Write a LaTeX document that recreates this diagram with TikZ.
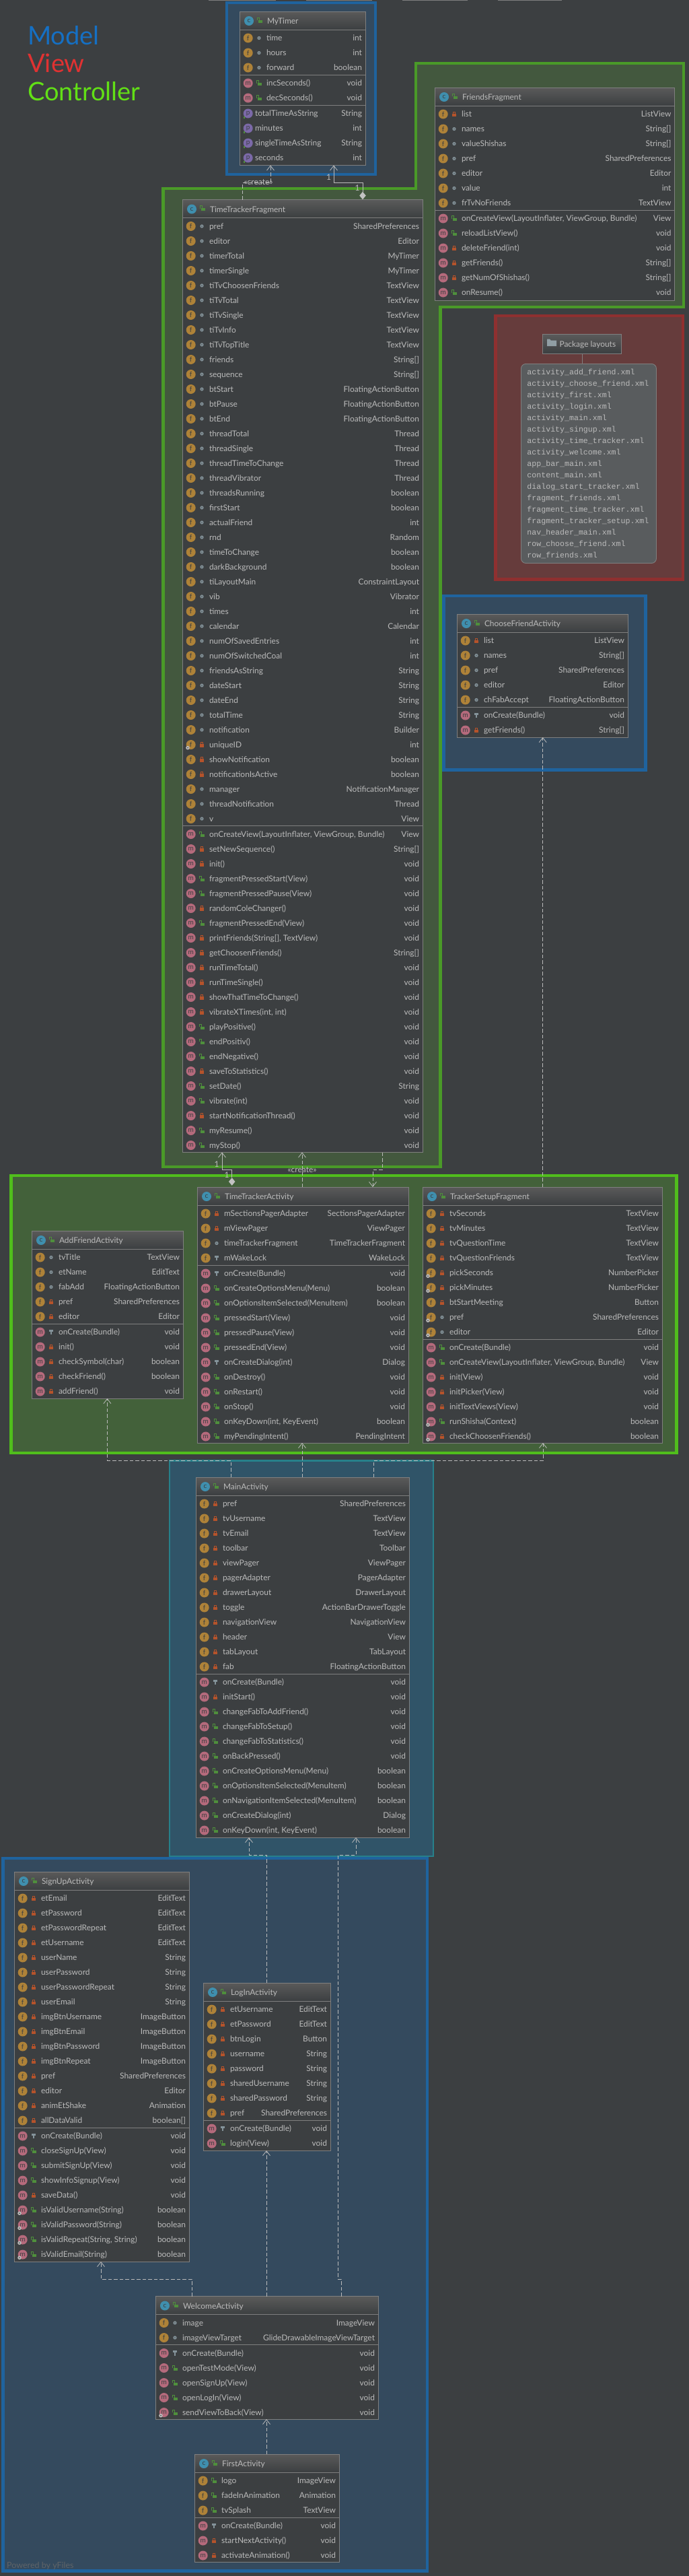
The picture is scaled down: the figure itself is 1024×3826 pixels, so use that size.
\documentclass[tikz,border=0pt]{standalone}
\usepackage{fontspec}
\setmainfont{Lato}
\setmonofont{Liberation Mono}
\usetikzlibrary{arrows.meta,shapes.geometric}
\definecolor{bgdark}{HTML}{3C3F41}
\definecolor{boxline}{HTML}{7F7F7F}
\definecolor{headtop}{HTML}{5A5A5A}
\definecolor{textgrey}{HTML}{BBBBBB}
\definecolor{fieldcol}{HTML}{AE8238}
\definecolor{methodcol}{HTML}{B56A7C}
\definecolor{classcol}{HTML}{3F8FAE}
\definecolor{propcol}{HTML}{7B69A8}
\definecolor{pubgreen}{HTML}{4F8F3C}
\definecolor{privred}{HTML}{B5532B}
\definecolor{dotgrey}{HTML}{84939A}
\definecolor{frameblue}{HTML}{1F639E}
\definecolor{zoneblue}{HTML}{344A5E}
\definecolor{frameteal}{HTML}{27808A}
\definecolor{zoneteal}{HTML}{305468}
\definecolor{framered}{HTML}{8F3030}
\definecolor{zonered}{HTML}{663C3C}
\definecolor{framegreen}{HTML}{4A9A28}
\definecolor{framelime}{HTML}{50BE1C}
\definecolor{zonegreen}{HTML}{43583E}
\definecolor{zonelime}{HTML}{43613A}
\definecolor{legendblue}{HTML}{1570C4}
\definecolor{legendred}{HTML}{E03232}
\definecolor{legendgreen}{HTML}{62E016}
\definecolor{yfilesgrey}{HTML}{5F6468}
\newcommand{\rowfont}{\fontsize{11.95}{14}\selectfont}
\tikzset{
  classbox/.style={rectangle,anchor=north west,fill=bgdark,inner sep=0pt,outer sep=0pt},
  boxedge/.style={draw=boxline,line width=0.9pt},
  rowtext/.style={font=\rowfont,text=textgrey,inner sep=0pt,outer sep=0pt},
  badge/.style={circle,minimum size=14pt,inner sep=0pt,text=bgdark,font=\fontsize{10}{10}\selectfont},
  gearmark/.style={fill=textgrey},
  dep/.style={draw=textgrey,line width=0.8pt,dash pattern=on 5.5pt off 3pt,-{Straight Barb[length=7pt,width=11pt]}},
  assoc/.style={draw=textgrey,line width=0.8pt,-{Straight Barb[length=7pt,width=11pt]}},
  diamondmark/.style={diamond,fill=textgrey!90!white,minimum width=9.5pt,minimum height=11.5pt,inner sep=0pt,outer sep=0pt},
  tag/.style={font=\fontsize{12}{14}\selectfont,text=textgrey,inner sep=0pt},
  legend/.style={font=\fontsize{38}{44}\selectfont,anchor=base west,inner sep=0pt},
  zone/.style 2 args={draw=#1,fill=#2,line width=4.5pt,line join=miter}
}
\newcommand{\umlgear}[1]{\fill[gearmark] (#1-4.7,\rowy+4.7) circle (2.8);\fill[bgdark] (#1-4.7,\rowy+4.7) circle (0.8);}
\newcommand{\umliconf}[2]{\node[badge,fill=fieldcol] (#1) at (#2,\rowy) {f};}
\newcommand{\umliconm}[2]{\node[badge,fill=methodcol] (#1) at (#2,\rowy) {m};}
\newcommand{\umliconp}[2]{\node[badge,fill=propcol] (#1) at (#2,\rowy) {p};\fill[pubgreen] (#2-7,\rowy+4.5) rectangle (#2-4.5,\rowy+7);}
\newcommand{\umliconF}[2]{\umliconf{#1}{#2}\umlgear{#2}}
\newcommand{\umliconM}[2]{\umliconm{#1}{#2}\umlgear{#2}}
\newcommand{\umlvisg}[2]{\begin{scope}[shift={(#1,#2)}]
    \draw[pubgreen,line width=1.1pt] (-3.6,0) -- (-3.6,-3.6) -- (-0.6,-3.6) -- (-0.6,0);
    \fill[pubgreen] (-1.6,-0.4) rectangle (3.6,3.6);
  \end{scope}}
\newcommand{\umlvisr}[2]{\begin{scope}[shift={(#1,#2)}]
    \draw[privred,line width=1.1pt] (-1.8,0) -- (-1.8,-3.4) -- (1.8,-3.4) -- (1.8,0);
    \fill[privred] (-3,-0.6) rectangle (3,3.6);
  \end{scope}}
\newcommand{\umlviso}[2]{\draw[dotgrey,fill=dotgrey!60!bgdark,line width=1.2pt] (#1,#2) circle (2);}
\newcommand{\umlvisk}[2]{\begin{scope}[shift={(#1,#2)}]
    \fill[dotgrey] (-2.8,-3.8) rectangle (2.8,-1);
    \fill[dotgrey] (-1.1,-1) rectangle (1.1,3.8);
  \end{scope}}
\newcommand{\umlvisn}[2]{}
\newcommand{\umlclass}[7]{
  \pgfmathsetmacro\boxw{#3-#2}
  \pgfmathsetmacro\boxh{#5-#4}
  \node[classbox,minimum width=\boxw pt,minimum height=\boxh pt] (#1) at (#2,#4) {};
  \shade[top color=headtop,bottom color=bgdark] (#2,#4) rectangle (#3,#4+27);
  \draw[boxedge] (#2,#4+27) -- (#3,#4+27);
  \draw[boxedge] (#2,#4) rectangle (#3,#5);
  \node[badge,fill=classcol] (#1-c) at (#2+14,#4+14) {c};
  \umlvisg{#2+30}{#4+13}
  \node[rowtext,anchor=base west] (#1-title) at (#2+41,#4+18.5) {#6};
  \pgfmathsetmacro\rowy{#4+39.5}
  \global\let\rowy\rowy
  \foreach [count=\rowno] \kind/\vis/\rowname/\rowtype in {#7} {
    \if\kind s
      \draw[boxedge] (#2,\rowy-11.5) -- (#3,\rowy-11.5);
      \pgfmathsetmacro\nexty{\rowy+1}
    \else
      \csname umlicon\kind\endcsname{#1-i\rowno}{#2+12.7}
      \csname umlvis\vis\endcsname{#2+29}{\rowy}
      \def\rowx{40}
      \if\kind p \def\rowx{23}\fi
      \node[rowtext,anchor=base west] (#1-n\rowno) at (#2+\rowx,\rowy+4.3) {\rowname};
      \node[rowtext,anchor=base east] (#1-t\rowno) at (#3-5,\rowy+4.3) {\rowtype};
      \pgfmathsetmacro\nexty{\rowy+22}
    \fi
    \global\let\rowy\nexty
  }
}
\begin{document}
\begin{tikzpicture}[x=1pt,y=-1pt]
  \useasboundingbox (0,0) rectangle (1024,3826);
  \fill[bgdark] (0,0) rectangle (1024,3826);
  \foreach \stripa/\stripb in {310/410,455/553,598/695,740/835}
    \fill[boxline] (\stripa,0) rectangle (\stripb,1);

  \draw[zone={framered}{zonered}] (736.5,469) rectangle (1015,860.5);
  \draw[zone={frameblue}{zoneblue}] (337,4) rectangle (558,259);
  \draw[zone={frameblue}{zoneblue}] (659.5,885) rectangle (959.5,1143.5);
  \draw[zone={frameblue}{zoneblue}] (4.5,2760) rectangle (635,3818.5);
  \draw[zone={framegreen}{zonegreen}]
    (618,94) -- (1016,94) -- (1016,456) -- (654.5,456) -- (654.5,1733)
    -- (242.5,1733) -- (242.5,280) -- (618,280) -- cycle;
  \draw[zone={framelime}{zonelime}] (16.7,1746) rectangle (1005.5,2158);
  \draw[zone={frameteal}{zoneteal},line width=2.8pt] (252,2169.5) rectangle (644,2757);

  \node[legend,text=legendblue] (legendmodel) at (41,66) {Model};
  \node[legend,text=legendred] (legendview) at (41,107) {View};
  \node[legend,text=legendgreen] (legendctrl) at (41,149) {Controller};

  \umlclass{mytimer}{356}{543}{17}{245.5}{MyTimer}{
    f/o/time/int, f/o/hours/int, f/o/forward/boolean, s/n/x/x,
    m/g/incSeconds()/void, m/g/decSeconds()/void, s/n/x/x,
    p/n/totalTimeAsString/String, p/n/minutes/int, p/n/singleTimeAsString/String, p/n/seconds/int}

  \umlclass{friends}{646}{1002.5}{130}{446}{FriendsFragment}{
    f/r/list/ListView, f/o/names/String[], f/o/valueShishas/String[], f/o/pref/SharedPreferences,
    f/o/editor/Editor, f/o/value/int, f/o/frTvNoFriends/TextView, s/n/x/x,
    m/g/{onCreateView(LayoutInflater, ViewGroup, Bundle)}/View, m/g/reloadListView()/void,
    m/r/deleteFriend(int)/void, m/r/getFriends()/String[], m/r/getNumOfShishas()/String[], m/g/onResume()/void}

  \umlclass{ttf}{271}{628}{296.5}{1711.5}{TimeTrackerFragment}{
    f/o/pref/SharedPreferences, f/o/editor/Editor, f/o/timerTotal/MyTimer, f/o/timerSingle/MyTimer,
    f/o/tiTvChoosenFriends/TextView, f/o/tiTvTotal/TextView, f/o/tiTvSingle/TextView, f/o/tiTvInfo/TextView,
    f/o/tiTvTopTitle/TextView, f/o/friends/String[], f/o/sequence/String[], f/o/btStart/FloatingActionButton,
    f/o/btPause/FloatingActionButton, f/o/btEnd/FloatingActionButton, f/o/threadTotal/Thread, f/o/threadSingle/Thread,
    f/o/threadTimeToChange/Thread, f/o/threadVibrator/Thread, f/o/threadsRunning/boolean, f/o/firstStart/boolean,
    f/o/actualFriend/int, f/o/rnd/Random, f/o/timeToChange/boolean, f/o/darkBackground/boolean,
    f/o/tiLayoutMain/ConstraintLayout, f/o/vib/Vibrator, f/o/times/int, f/o/calendar/Calendar,
    f/o/numOfSavedEntries/int, f/o/numOfSwitchedCoal/int, f/o/friendsAsString/String, f/o/dateStart/String,
    f/o/dateEnd/String, f/o/totalTime/String, f/o/notification/Builder, F/r/uniqueID/int,
    f/r/showNotification/boolean, f/r/notificationIsActive/boolean, f/o/manager/NotificationManager,
    f/o/threadNotification/Thread, f/o/v/View, s/n/x/x,
    m/g/{onCreateView(LayoutInflater, ViewGroup, Bundle)}/View, m/r/setNewSequence()/String[], m/r/init()/void,
    m/g/fragmentPressedStart(View)/void, m/g/fragmentPressedPause(View)/void, m/r/randomColeChanger()/void,
    m/g/fragmentPressedEnd(View)/void, m/r/{printFriends(String[], TextView)}/void, m/r/getChoosenFriends()/String[],
    m/r/runTimeTotal()/void, m/r/runTimeSingle()/void, m/r/showThatTimeToChange()/void, m/r/{vibrateXTimes(int, int)}/void,
    m/g/playPositive()/void, m/g/endPositiv()/void, m/g/endNegative()/void, m/r/saveToStatistics()/void,
    m/g/setDate()/String, m/g/vibrate(int)/void, m/r/startNotificationThread()/void, m/g/myResume()/void, m/g/myStop()/void}

  \node[rectangle,draw=boxline,line width=0.9pt,top color=headtop,bottom color=bgdark,minimum width=117pt,minimum height=28.5pt,inner sep=0pt,anchor=north west] (pkglayouts) at (806,496) {};
  \fill[dotgrey!90!white] (813,503.5) -- (817,503.5) -- (818.5,505.5) -- (827,505.5) -- (827,514) -- (813,514) -- cycle;
  \node[rowtext,anchor=base west] (pkgtitle) at (831.5,515) {Package layouts};
  \node[rectangle,rounded corners=7pt,draw=boxline,fill=bgdark!85!white,line width=0.9pt,text width=183pt,minimum width=201pt,minimum height=296pt,inner sep=0pt,align=left,anchor=north west,text=textgrey,font=\ttfamily\fontsize{11.6}{17}\selectfont] (layoutlist) at (774,540) {activity\_add\_friend.xml\\activity\_choose\_friend.xml\\activity\_first.xml\\activity\_login.xml\\activity\_main.xml\\activity\_singup.xml\\activity\_time\_tracker.xml\\activity\_welcome.xml\\app\_bar\_main.xml\\content\_main.xml\\dialog\_start\_tracker.xml\\fragment\_friends.xml\\fragment\_time\_tracker.xml\\fragment\_tracker\_setup.xml\\nav\_header\_main.xml\\row\_choose\_friend.xml\\row\_friends.xml};
  \draw[draw=boxline,line width=0.9pt] (pkglayouts.south) -- (pkglayouts.south |- layoutlist.north);

  \umlclass{choosefriend}{679}{933}{912}{1095}{ChooseFriendActivity}{
    f/r/list/ListView, f/o/names/String[], f/o/pref/SharedPreferences, f/o/editor/Editor,
    f/o/chFabAccept/FloatingActionButton, s/n/x/x, m/k/onCreate(Bundle)/void, m/r/getFriends()/String[]}

  \umlclass{addfriend}{47}{272}{1828}{2077}{AddFriendActivity}{
    f/o/tvTitle/TextView, f/o/etName/EditText, f/o/fabAdd/FloatingActionButton, f/r/pref/SharedPreferences,
    f/r/editor/Editor, s/n/x/x, m/k/onCreate(Bundle)/void, m/r/init()/void, m/r/checkSymbol(char)/boolean,
    m/r/checkFriend()/boolean, m/r/addFriend()/void}

  \umlclass{tta}{293}{607}{1763}{2143}{TimeTrackerActivity}{
    f/r/mSectionsPagerAdapter/SectionsPagerAdapter, f/r/mViewPager/ViewPager,
    f/o/timeTrackerFragment/TimeTrackerFragment, f/k/mWakeLock/WakeLock, s/n/x/x,
    m/k/onCreate(Bundle)/void, m/g/onCreateOptionsMenu(Menu)/boolean, m/g/onOptionsItemSelected(MenuItem)/boolean,
    m/g/pressedStart(View)/void, m/g/pressedPause(View)/void, m/g/pressedEnd(View)/void,
    m/k/onCreateDialog(int)/Dialog, m/g/onDestroy()/void, m/g/onRestart()/void, m/g/onStop()/void,
    m/g/{onKeyDown(int, KeyEvent)}/boolean, m/g/myPendingIntent()/PendingIntent}

  \umlclass{setup}{628}{984}{1763}{2143}{TrackerSetupFragment}{
    f/r/tvSeconds/TextView, f/r/tvMinutes/TextView, f/r/tvQuestionTime/TextView, f/r/tvQuestionFriends/TextView,
    F/r/pickSeconds/NumberPicker, F/r/pickMinutes/NumberPicker, f/r/btStartMeeting/Button,
    F/o/pref/SharedPreferences, F/o/editor/Editor, s/n/x/x,
    m/g/onCreate(Bundle)/void, m/g/{onCreateView(LayoutInflater, ViewGroup, Bundle)}/View, m/r/init(View)/void,
    m/r/initPicker(View)/void, m/r/initTextViews(View)/void, M/g/runShisha(Context)/boolean, M/r/checkChoosenFriends()/boolean}

  \umlclass{mainact}{291}{608}{2194}{2729}{MainActivity}{
    f/r/pref/SharedPreferences, f/r/tvUsername/TextView, f/r/tvEmail/TextView, f/r/toolbar/Toolbar,
    f/r/viewPager/ViewPager, f/r/pagerAdapter/PagerAdapter, f/r/drawerLayout/DrawerLayout,
    f/r/toggle/ActionBarDrawerToggle, f/r/navigationView/NavigationView, f/r/header/View,
    f/r/tabLayout/TabLayout, f/r/fab/FloatingActionButton, s/n/x/x,
    m/k/onCreate(Bundle)/void, m/r/initStart()/void, m/g/changeFabToAddFriend()/void, m/g/changeFabToSetup()/void,
    m/g/changeFabToStatistics()/void, m/g/onBackPressed()/void, m/g/onCreateOptionsMenu(Menu)/boolean,
    m/g/onOptionsItemSelected(MenuItem)/boolean, m/g/onNavigationItemSelected(MenuItem)/boolean,
    m/g/onCreateDialog(int)/Dialog, m/g/{onKeyDown(int, KeyEvent)}/boolean}

  \umlclass{signup}{21}{281}{2780}{3359}{SignUpActivity}{
    f/r/etEmail/EditText, f/r/etPassword/EditText, f/r/etPasswordRepeat/EditText, f/r/etUsername/EditText,
    f/r/userName/String, f/r/userPassword/String, f/r/userPasswordRepeat/String, f/r/userEmail/String,
    f/r/imgBtnUsername/ImageButton, f/r/imgBtnEmail/ImageButton, f/r/imgBtnPassword/ImageButton, f/r/imgBtnRepeat/ImageButton,
    f/r/pref/SharedPreferences, f/r/editor/Editor, f/r/animEtShake/Animation, f/r/allDataValid/boolean[], s/n/x/x,
    m/k/onCreate(Bundle)/void, m/g/closeSignUp(View)/void, m/g/submitSignUp(View)/void, m/g/showInfoSignup(View)/void,
    m/r/saveData()/void, M/g/isValidUsername(String)/boolean, M/g/isValidPassword(String)/boolean,
    M/g/{isValidRepeat(String, String)}/boolean, M/g/isValidEmail(String)/boolean}

  \umlclass{login}{302}{491}{2945}{3194}{LogInActivity}{
    f/r/etUsername/EditText, f/r/etPassword/EditText, f/r/btnLogin/Button, f/r/username/String, f/r/password/String,
    f/r/sharedUsername/String, f/r/sharedPassword/String, f/r/pref/SharedPreferences, s/n/x/x,
    m/k/onCreate(Bundle)/void, m/g/login(View)/void}

  \umlclass{welcome}{231}{562}{3410.5}{3593}{WelcomeActivity}{
    f/o/image/ImageView, f/o/imageViewTarget/GlideDrawableImageViewTarget, s/n/x/x,
    m/k/onCreate(Bundle)/void, m/g/openTestMode(View)/void, m/g/openSignUp(View)/void, m/g/openLogIn(View)/void,
    M/g/sendViewToBack(View)/void}

  \umlclass{first}{289}{504}{3645}{3805.5}{FirstActivity}{
    f/g/logo/ImageView, f/g/fadeInAnimation/Animation, f/g/tvSplash/TextView, s/n/x/x,
    m/k/onCreate(Bundle)/void, m/r/startNextActivity()/void, m/r/activateAnimation()/void}

  \node[text=yfilesgrey,font=\fontsize{12.5}{14}\selectfont,anchor=base west,inner sep=0pt] (poweredby) at (10,3814) {Powered by yFiles};

  \node[diamondmark] (diatimer) at (539,290.5) {};
  \node[diamondmark] (diafragment) at (344.7,1755) {};
  \begin{scope}
    \draw[dep] ([xshift=89.5pt]ttf.north west) -- ++(0,-25) -| ([xshift=46pt]mytimer.south west);
    \draw[assoc] (diatimer.north) -- ++(0,-13) -| ([xshift=140pt]mytimer.south west);
    \draw[assoc] (diafragment.north) -- ++(0,-11.5) -| ([xshift=59pt]ttf.south west);
    \draw[dep] ([xshift=156pt]tta.north west) -- ([xshift=178pt]ttf.south west);
    \draw[dep] ([xshift=297pt]ttf.south west) -- ++(0,26) -| ([xshift=261pt]tta.north west);
    \draw[dep] ([xshift=178.7pt]setup.north west) -- ([xshift=127.7pt]choosefriend.south west);
    \draw[dep] ([xshift=52pt]mainact.north west) -- ++(0,-25) -| ([xshift=112.4pt]addfriend.south west);
    \draw[dep] ([xshift=158pt]mainact.north west) -- ([xshift=156pt]tta.south west);
    \draw[dep] ([xshift=264pt]mainact.north west) -- ++(0,-25) -| ([xshift=179pt]setup.south west);
    \draw[dep] ([xshift=94pt]login.north west) -- ++(0,-190) -| ([xshift=79pt]mainact.south west);
    \draw[dep] ([xshift=276pt]welcome.north west) -- ++(0,-25.5) -- ++(-5,0) -- ++(0,-630) -| ([xshift=238pt]mainact.south west);
    \draw[dep] ([xshift=165pt]welcome.north west) -- ([xshift=94pt]login.south west);
    \draw[dep] ([xshift=54.3pt]welcome.north west) -- ++(0,-25.5) -| ([xshift=129pt]signup.south west);
    \draw[dep] ([xshift=107pt]first.north west) -- ([xshift=165pt]welcome.south west);
  \end{scope}
  \node[tag] (createtimer) at (384,271) {«create»};
  \node[tag] (createfragment) at (449,1737.5) {«create»};
  \node[tag] (onetimera) at (488.6,263) {1};
  \node[tag] (onetimerb) at (531,279) {1};
  \node[tag] (onefragmenta) at (322,1729) {1};
  \node[tag] (onefragmentb) at (337,1745) {1};
\end{tikzpicture}
\end{document}
